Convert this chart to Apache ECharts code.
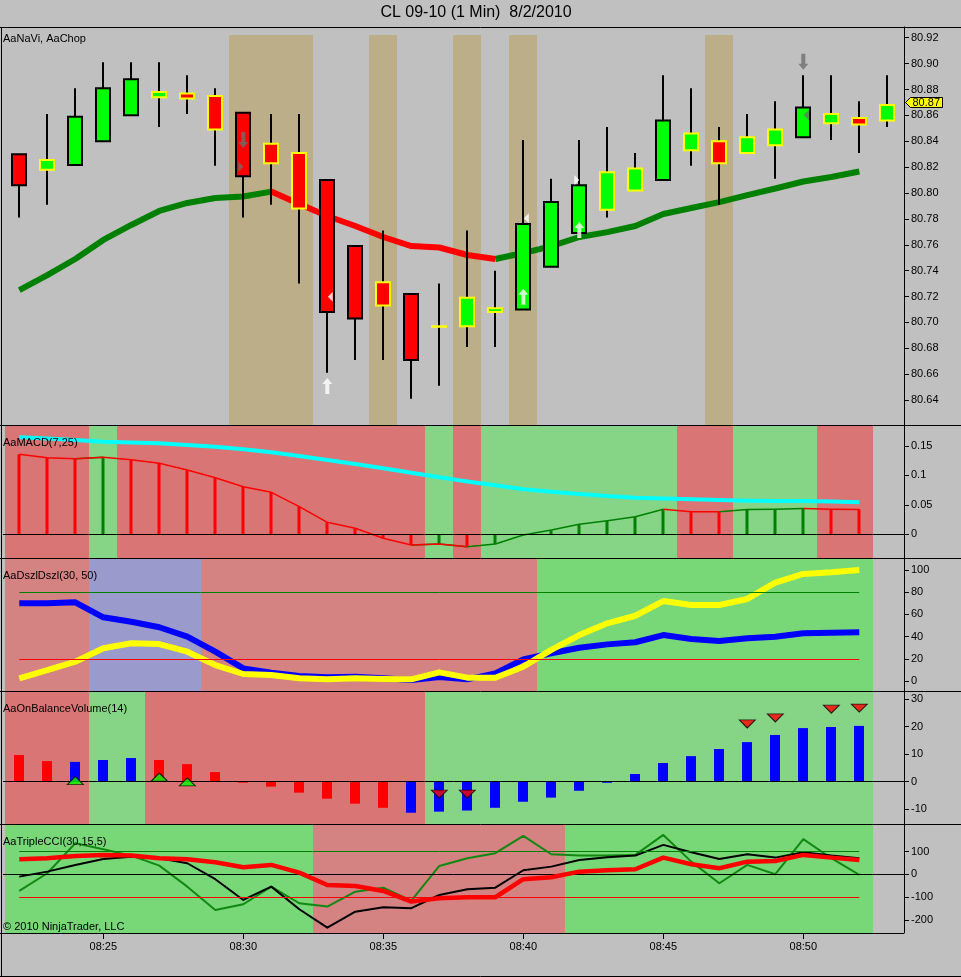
<!DOCTYPE html>
<html>
<head>
  <meta charset="utf-8">
  <title>CL 09-10 (1 Min) 8/2/2010</title>
  <script src="https://cdn.jsdelivr.net/npm/echarts@6/dist/echarts.min.js"></script>
  <style>
    html, body { margin: 0; padding: 0; background: #c0c0c0; }
    #main { width: 961px; height: 977px; }
  </style>
</head>
<body>
<div id="main"></div>
<script type="text/javascript">
  // ---- data ----
  var times = ['08:22', '08:23', '08:24', '08:25', '08:26', '08:27', '08:28', '08:29',
    '08:30', '08:31', '08:32', '08:33', '08:34', '08:35', '08:36', '08:37',
    '08:38', '08:39', '08:40', '08:41', '08:42', '08:43', '08:44', '08:45',
    '08:46', '08:47', '08:48', '08:49', '08:50', '08:51', '08:52', '08:53'];

  var opens = [80.830, 80.818, 80.8216, 80.840, 80.860, 80.874, 80.877, 80.875,
    80.862, 80.838, 80.831, 80.810, 80.759, 80.731, 80.722, 80.697,
    80.697, 80.708, 80.710, 80.743, 80.769, 80.787, 80.802, 80.810,
    80.833, 80.840, 80.831, 80.837, 80.843, 80.854, 80.858, 80.856];
  var highs = [80.830, 80.861, 80.881, 80.901, 80.901, 80.901, 80.891, 80.881,
    80.862, 80.861, 80.861, 80.810, 80.759, 80.771, 80.722, 80.730,
    80.771, 80.740, 80.841, 80.811, 80.841, 80.851, 80.831, 80.891,
    80.881, 80.851, 80.861, 80.871, 80.891, 80.891, 80.871, 80.891];
  var lows = [80.781, 80.791, 80.821, 80.840, 80.860, 80.851, 80.861, 80.821,
    80.781, 80.791, 80.730, 80.661, 80.671, 80.671, 80.641, 80.651,
    80.681, 80.681, 80.710, 80.743, 80.767, 80.781, 80.802, 80.810,
    80.821, 80.791, 80.831, 80.811, 80.843, 80.841, 80.831, 80.851];
  var closes = [80.806, 80.8255, 80.859, 80.881, 80.888, 80.878, 80.873, 80.849,
    80.813, 80.823, 80.788, 80.708, 80.703, 80.713, 80.671, 80.697,
    80.719, 80.711, 80.776, 80.793, 80.806, 80.816, 80.819, 80.856,
    80.846, 80.823, 80.843, 80.849, 80.866, 80.861, 80.853, 80.868];
  // candle outline: k = black, y = yellow
  var outline = ['k', 'y', 'k', 'k', 'k', 'y', 'y', 'y', 'k', 'y', 'y', 'k', 'k', 'y', 'k', 'y',
    'y', 'y', 'k', 'k', 'k', 'y', 'y', 'k', 'y', 'y', 'y', 'y', 'k', 'y', 'y', 'y'];
  var chopBars = [8, 9, 10, 13, 16, 18, 25];

  var naviMA = [80.725, 80.7366, 80.749, 80.7637, 80.7753, 80.7861, 80.7923, 80.7961,
    80.7973, 80.8011, 80.7915, 80.7822, 80.7745, 80.766, 80.759, 80.7579,
    80.7521, 80.749, 80.7536, 80.759, 80.766, 80.7698, 80.7745, 80.7838,
    80.7884, 80.793, 80.7984, 80.8035, 80.8089, 80.8124, 80.8166];

  // signals on the price panel: [bar, price, side] side 1 = long (white), -1 = short (grey)
  var arrowSignals = [[8, 80.841, -1], [11, 80.6508, 1], [18, 80.7198, 1], [20, 80.7714, 1], [28, 80.9015, -1]];
  var leftMarks = [[11, 80.7198, 1], [18, 80.7804, 1], [28, 80.8603, -1]];
  var rightMarks = [[8, 80.8203, -1], [20, 80.81, 1]];

  var macdLine = [0.1356, 0.1298, 0.1281, 0.1305, 0.1264, 0.1203, 0.109, 0.0959,
    0.0807, 0.0712, 0.0468, 0.0203, 0.0102, -0.0068, -0.0181, -0.0164,
    -0.021, -0.0164, -0.0012, 0.0073, 0.017, 0.023, 0.0298, 0.0424,
    0.0383, 0.0381, 0.042, 0.0424, 0.0438, 0.0425, 0.0422];
  var macdSignal = [0.1644, 0.1624, 0.1598, 0.157, 0.1556, 0.1542, 0.1514, 0.1485,
    0.1441, 0.139, 0.1327, 0.1259, 0.1192, 0.1119, 0.1042, 0.0966,
    0.0895, 0.0831, 0.0763, 0.072, 0.0683, 0.0649, 0.062, 0.0605,
    0.0593, 0.0581, 0.057, 0.0566, 0.0564, 0.0554, 0.0542];

  var dszlZone = ['r', 'r', 'r', 'b', 'b', 'b', 'b', 'r', 'r', 'r', 'r', 'r', 'r', 'r', 'r', 'r',
    'r', 'r', 'r', 'g', 'g', 'g', 'g', 'g', 'g', 'g', 'g', 'g', 'g', 'g', 'g'];
  var dszlBlue = [70.0, 70.0, 70.9, 57.4, 53.4, 48.4, 39.9, 26.4, 11.4, 7.5, 4.5, 3.3, 3.9, 2.4, 0.9, 3.5,
    1.5, 6.9, 19.5, 25, 30, 33, 34.9, 41.4, 37.8, 36, 38.5, 39.9, 43, 43.5, 43.9];
  var dszlYellow = [2.4, 9.9, 17.4, 29.5, 34, 33.3, 26.4, 14.4, 6.3, 5.4, 2.4, 1.5, 2.4, 1.8, 1.5, 7.8,
    3.0, 3.0, 12.9, 28, 41.4, 52, 58.8, 72, 68.5, 68.5, 73.9, 88.6, 96.4, 97.9, 100];

  var obvValues = [9.7, 7.5, 7.2, 7.9, 8.6, 7.9, 6.4, 3.5, -0.3, -1.8, -4.0, -6.2, -8.0, -9.5, -11.3, -10.9,
    -10.5, -9.5, -7.3, -5.8, -3.3, -0.4, 2.8, 6.8, 9.3, 11.9, 14.4, 17.0, 19.5, 19.9, 20.3];
  var obvColor = ['r', 'r', 'b', 'b', 'b', 'r', 'r', 'r', 'r', 'r', 'r', 'r', 'r', 'r', 'b', 'b',
    'b', 'b', 'b', 'b', 'b', 'b', 'b', 'b', 'b', 'b', 'b', 'b', 'b', 'b', 'b'];
  var obvZone = ['r', 'r', 'r', 'g', 'g', 'r', 'r', 'r', 'r', 'r', 'r', 'r', 'r', 'r', 'r', 'g',
    'g', 'g', 'g', 'g', 'g', 'g', 'g', 'g', 'g', 'g', 'g', 'g', 'g', 'g', 'g'];
  var obvUpMarks = [[2, 0.4], [5, 1.7], [6, -0.1]];
  var obvDownMarks = [[15, -4.5], [16, -4.5], [26, 21.0], [27, 23.2], [29, 26.4], [30, 26.8]];

  var cciZone = ['g', 'g', 'g', 'g', 'g', 'g', 'g', 'g', 'g', 'g', 'g', 'r', 'r', 'r', 'r', 'r',
    'r', 'r', 'r', 'r', 'g', 'g', 'g', 'g', 'g', 'g', 'g', 'g', 'g', 'g', 'g'];
  var cciRed = [66.6, 71, 81, 85.5, 82.5, 71, 66.6, 53.5, 31.6, 41.7, 7.9, -46, -50.4, -72.4, -119, -104.4,
    -100, -100, -21, -12.3, 12.3, 18.4, 22.8, 73.7, 44.7, 27.2, 56.1, 59.2, 85.5, 73.7, 63.6];
  var cciBlack = [-9.6, 12.3, 41.7, 68, 78, 71, 49, -21, -111.8, -53.5, -152.6, -233, -163, -144, -148, -90,
    -65, -58, 18.4, 34.2, 63.6, 75.4, 82.5, 129.4, 97.4, 68, 88.6, 73.7, 97.4, 82.5, 71];
  var cciGreen = [-72.4, 5.3, 136.8, 110.5, 82.5, 38.6, -53.5, -155.7, -130.7, -53.5, -126.3, -141, -75.4, -58, -115, 37.3,
    71, 93, 168.9, 88.6, 82.5, 82.5, 85.5, 173.2, 56.1, -38.6, 41.7, 0.9, 154.4, 71, -2.2];

  var priceTicks = [80.64, 80.66, 80.68, 80.70, 80.72, 80.74, 80.76, 80.78, 80.80, 80.82, 80.84, 80.86, 80.88, 80.90, 80.92];
  var macdTicks = [0, 0.05, 0.1, 0.15];
  var dszlTicks = [0, 20, 40, 60, 80, 100];
  var obvTicks = [-10, 0, 10, 20, 30];
  var cciTicks = [-200, -100, 0, 100];

  // ---- chart ----
  var myChart = echarts.init(document.getElementById('main'));
  var FONT = '"Liberation Sans", Arial, sans-serif';
  var XMIN = -0.582, XMAX = 31.596;
  var panels = [
    { top: 27, height: 398, min: 80.6207, max: 80.9283, ticks: priceTicks, fmt: function (v) { return v.toFixed(2); } },
    { top: 425, height: 133, min: -0.0402, max: 0.1853, ticks: macdTicks, fmt: function (v) { return String(v); } },
    { top: 558, height: 133, min: -9.0, max: 110.8, ticks: dszlTicks, fmt: function (v) { return String(v); } },
    { top: 691, height: 133, min: -15.4, max: 33.0, ticks: obvTicks, fmt: function (v) { return String(v); } },
    { top: 824, height: 109, min: -256.6, max: 221, ticks: cciTicks, fmt: function (v) { return String(v); } }
  ];

  var labelBars = [];
  times.forEach(function (t, i) { if (+t.slice(3) % 5 === 0) labelBars.push(i); });

  var grids = [], xAxes = [], yAxes = [];
  panels.forEach(function (p, gi) {
    grids.push({ left: 3, right: 57, top: p.top, height: p.height });
    var last = gi === panels.length - 1;
    xAxes.push({
      type: 'value', gridIndex: gi, min: XMIN, max: XMAX,
      axisLine: { show: false, onZero: false },
      axisTick: { show: last, length: 6, customValues: labelBars, lineStyle: { color: '#000' } },
      axisLabel: {
        show: last, customValues: labelBars, margin: 8, color: '#000', fontSize: 11, fontFamily: FONT,
        formatter: function (v) { return times[v]; }
      },
      splitLine: { show: false }
    });
    yAxes.push({
      type: 'value', gridIndex: gi, position: 'right', min: p.min, max: p.max,
      axisLine: { show: true, onZero: false, lineStyle: { color: '#000', width: 1 } },
      axisTick: { show: true, length: 5, customValues: p.ticks, lineStyle: { color: '#000' } },
      axisLabel: { customValues: p.ticks, margin: 7, color: '#000', fontSize: 11, fontFamily: FONT, formatter: p.fmt },
      splitLine: { show: false }
    });
  });

  function barSpan(api, i) {
    var x0 = Math.round(api.coord([i - 0.5, 0])[0]);
    var x1 = Math.round(api.coord([i + 0.5, 0])[0]);
    return [x0, x1];
  }

  function zoneSeries(gi, zones, palette) {
    return {
      type: 'custom', xAxisIndex: gi, yAxisIndex: gi, z: 1, silent: true,
      data: zones.map(function (z, i) { return [i, 0]; }),
      renderItem: function (params, api) {
        var s = barSpan(api, api.value(0));
        var cs = params.coordSys;
        return {
          type: 'rect', shape: { x: s[0], y: cs.y, width: s[1] - s[0], height: cs.height },
          style: { fill: palette[zones[params.dataIndex]] }
        };
      }
    };
  }

  function splitBySlope(vals) {
    var up = [], dn = [];
    for (var i = 0; i < vals.length; i++) {
      var inUp = i > 0 && vals[i] > vals[i - 1];
      var inDn = i > 0 && vals[i] <= vals[i - 1];
      var outUp = i < vals.length - 1 && vals[i + 1] > vals[i];
      var outDn = i < vals.length - 1 && vals[i + 1] <= vals[i];
      up.push([i, (inUp || outUp) ? vals[i] : '-']);
      dn.push([i, (inDn || outDn) ? vals[i] : '-']);
    }
    return { up: up, dn: dn };
  }

  function lineSeries(gi, data, color, width, z) {
    return {
      type: 'line', xAxisIndex: gi, yAxisIndex: gi, data: data, symbol: 'none', showSymbol: false,
      connectNulls: false, silent: true, z: z || 3,
      lineStyle: { color: color, width: width, cap: 'butt', join: 'round' }
    };
  }

  function indexed(vals) { return vals.map(function (v, i) { return [i, v]; }); }

  function hLines(gi, lines) {
    return {
      type: 'line', xAxisIndex: gi, yAxisIndex: gi, data: [], z: 2, silent: true,
      markLine: {
        silent: true, symbol: ['none', 'none'], label: { show: false }, animation: false,
        data: lines.map(function (l) {
          if (l.full) {
            return { yAxis: l.y, lineStyle: { color: l.color, width: 1, type: 'solid' } };
          }
          return [
            { coord: [l.from, l.y], lineStyle: { color: l.color, width: 1, type: 'solid' } },
            { coord: [l.to, l.y] }
          ];
        })
      }
    };
  }

  var UP_ARROW = 'path://M5,0 L10,6 L7,6 L7,16 L3,16 L3,6 L0,6 Z';
  var DOWN_ARROW = 'path://M3,0 L7,0 L7,10 L10,10 L5,16 L0,10 L3,10 Z';
  var TRI_LEFT = 'path://M0,5 L5,0 L5,10 Z';
  var TRI_RIGHT = 'path://M0,0 L5,5 L0,10 Z';
  var sideColor = function (s) { return s > 0 ? '#FFFFFF' : '#6E6E6E'; };

  var lastBar = times.length - 1;
  var ma = splitBySlope(naviMA);
  var macdSplit = splitBySlope(macdLine);
  var macdZone = macdLine.map(function (v, i) { return i > 0 && v > macdLine[i - 1] ? 'g' : 'r'; });
  var lastIdx = macdLine.length - 1;

  var series = [
    // price panel: chop bands
    {
      type: 'custom', xAxisIndex: 0, yAxisIndex: 0, z: 1, silent: true,
      data: chopBars.map(function (b) { return [b, 80.7]; }),
      renderItem: function (params, api) {
        var s = barSpan(api, api.value(0));
        var cs = params.coordSys;
        return {
          type: 'rect', shape: { x: s[0], y: cs.y + 8, width: s[1] - s[0], height: cs.height - 8 },
          style: { fill: '#BCAE89' }
        };
      }
    },
    lineSeries(0, ma.up, '#008000', 6, 3),
    lineSeries(0, ma.dn, '#FF0000', 6, 3),
    // candles
    {
      type: 'custom', xAxisIndex: 0, yAxisIndex: 0, z: 4, silent: true,
      data: times.map(function (t, i) { return [i, opens[i], closes[i], lows[i], highs[i]]; }),
      renderItem: function (params, api) {
        var i = api.value(0), o = api.value(1), c = api.value(2);
        var pO = api.coord([i, o]), pC = api.coord([i, c]);
        var pL = api.coord([i, api.value(3)]), pH = api.coord([i, api.value(4)]);
        var x = Math.round(pO[0]);
        var top = Math.min(pO[1], pC[1]), bot = Math.max(pO[1], pC[1]);
        var w = 14;
        return {
          type: 'group', children: [
            { type: 'line', shape: { x1: x, y1: pH[1], x2: x, y2: pL[1] }, style: { stroke: '#000', lineWidth: 2 } },
            {
              type: 'rect', shape: { x: x - w / 2, y: top, width: w, height: Math.max(bot - top, 0.5) },
              style: {
                fill: c >= o ? '#00FF00' : '#FF0000',
                stroke: outline[params.dataIndex] === 'k' ? '#000000' : '#FFFF00', lineWidth: 2
              }
            }
          ]
        };
      }
    },
    // signal arrows
    {
      type: 'scatter', xAxisIndex: 0, yAxisIndex: 0, z: 5, silent: true, symbolSize: [10, 16],
      data: arrowSignals.map(function (s) {
        return { value: [s[0], s[1]], symbol: s[2] > 0 ? UP_ARROW : DOWN_ARROW, itemStyle: { color: sideColor(s[2]) } };
      })
    },
    {
      type: 'scatter', xAxisIndex: 0, yAxisIndex: 0, z: 5, silent: true, symbol: TRI_LEFT, symbolSize: [5, 10],
      symbolOffset: [3, 0],
      data: leftMarks.map(function (s) { return { value: [s[0], s[1]], itemStyle: { color: sideColor(s[2]) } }; })
    },
    {
      type: 'scatter', xAxisIndex: 0, yAxisIndex: 0, z: 5, silent: true, symbol: TRI_RIGHT, symbolSize: [5, 10],
      symbolOffset: [-2.5, 0],
      data: rightMarks.map(function (s) { return { value: [s[0], s[1]], itemStyle: { color: sideColor(s[2]) } }; })
    },
    // last price tag
    {
      type: 'custom', xAxisIndex: 0, yAxisIndex: 0, z: 10, silent: true, clip: false,
      data: [[lastBar, +closes[lastBar].toFixed(2)]],
      renderItem: function (params, api) {
        var p = api.coord([api.value(0), api.value(1)]);
        var cs = params.coordSys;
        var x = cs.x + cs.width + 1.5, y = Math.round(p[1]) + 0.5;
        return {
          type: 'group', children: [
            {
              type: 'polygon',
              shape: { points: [[x, y], [x + 5, y - 5], [x + 37, y - 5], [x + 37, y + 5], [x + 5, y + 5]] },
              style: { fill: '#FFFF00', stroke: '#000', lineWidth: 1 }
            },
            {
              type: 'text',
              style: { text: api.value(1).toFixed(2), x: x + 7, y: y + 0.5, fill: '#000', font: '11px ' + FONT, verticalAlign: 'middle' }
            }
          ]
        };
      }
    },

    // MACD panel
    zoneSeries(1, macdZone, { r: '#D97575', g: '#86D486' }),
    hLines(1, [{ y: 0, color: '#000', full: true }]),
    {
      type: 'custom', xAxisIndex: 1, yAxisIndex: 1, z: 3, silent: true,
      data: indexed(macdLine),
      renderItem: function (params, api) {
        var i = api.value(0), v = api.value(1);
        var p0 = api.coord([i, 0]), p1 = api.coord([i, v]);
        var x = Math.round(p0[0]);
        return {
          type: 'rect', shape: { x: x - 1.5, y: Math.min(p0[1], p1[1]), width: 3, height: Math.abs(p1[1] - p0[1]) },
          style: { fill: macdZone[params.dataIndex] === 'g' ? '#008000' : '#FF0000' }
        };
      }
    },
    lineSeries(1, macdSplit.up, '#008000', 1.5, 4),
    lineSeries(1, macdSplit.dn, '#FF0000', 1.5, 4),
    lineSeries(1, indexed(macdSignal), '#00FFFF', 4, 5),

    // Dszl panel
    zoneSeries(2, dszlZone, { r: '#D48282', b: '#9A9ACC', g: '#78D878' }),
    hLines(2, [{ y: 80, color: '#008000', from: 0, to: lastIdx }, { y: 20, color: '#FF0000', from: 0, to: lastIdx }]),
    lineSeries(2, indexed(dszlBlue), '#0000FF', 6, 3),
    lineSeries(2, indexed(dszlYellow), '#FFFF00', 6, 4),

    // OBV panel
    zoneSeries(3, obvZone, { r: '#D97575', g: '#86D486' }),
    hLines(3, [{ y: 0, color: '#000', full: true }]),
    {
      type: 'custom', xAxisIndex: 3, yAxisIndex: 3, z: 3, silent: true,
      data: indexed(obvValues),
      renderItem: function (params, api) {
        var i = api.value(0), v = api.value(1);
        var p0 = api.coord([i, 0]), p1 = api.coord([i, v]);
        var x = Math.round(p0[0]);
        return {
          type: 'rect', shape: { x: x - 5, y: Math.min(p0[1], p1[1]), width: 10, height: Math.max(Math.abs(p1[1] - p0[1]), 1) },
          style: { fill: obvColor[params.dataIndex] === 'b' ? '#0000FF' : '#FF0000' }
        };
      }
    },
    {
      type: 'scatter', xAxisIndex: 3, yAxisIndex: 3, z: 5, silent: true, symbol: 'triangle', symbolSize: [16, 8],
      itemStyle: { color: '#00FF00', borderColor: '#000', borderWidth: 1 },
      data: obvUpMarks
    },
    {
      type: 'scatter', xAxisIndex: 3, yAxisIndex: 3, z: 5, silent: true, symbol: 'triangle', symbolSize: [16, 8],
      symbolRotate: 180,
      itemStyle: { color: '#FF0000', borderColor: '#000', borderWidth: 1 },
      data: obvDownMarks
    },

    // Triple CCI panel
    zoneSeries(4, cciZone, { r: '#D48282', g: '#78D878' }),
    hLines(4, [
      { y: 100, color: '#008000', from: 0, to: lastIdx },
      { y: 0, color: '#000', full: true },
      { y: -100, color: '#FF0000', from: 0, to: lastIdx }
    ]),
    lineSeries(4, indexed(cciGreen), '#118811', 2, 3),
    lineSeries(4, indexed(cciBlack), '#000000', 2, 4),
    lineSeries(4, indexed(cciRed), '#FF0000', 4.5, 5)
  ];

  // frame lines and texts
  var graphics = [];
  function hRule(y, x1, x2) {
    graphics.push({ type: 'line', z: 50, silent: true, shape: { x1: x1, y1: y + 0.5, x2: x2, y2: y + 0.5 }, style: { stroke: '#000', lineWidth: 1 } });
  }
  panels.forEach(function (p) { hRule(p.top, 0, 961); });
  hRule(933, 0, 904);
  hRule(976, 0, 961);
  graphics.push({ type: 'line', z: 50, silent: true, shape: { x1: 1.5, y1: 27, x2: 1.5, y2: 977 }, style: { stroke: '#000', lineWidth: 1 } });

  function label(text, x, y, size, align) {
    graphics.push({
      type: 'text', z: 60, silent: true,
      style: { text: text, x: x, y: y, fill: '#000', font: size + 'px ' + FONT, align: align || 'left', verticalAlign: 'middle' }
    });
  }
  label('CL 09-10 (1 Min)  8/2/2010', 476, 13, 16, 'center');
  label('AaNaVi, AaChop', 3, 39, 11);
  label('AaMACD(7,25)', 3, 443, 11);
  label('AaDszlDszl(30, 50)', 3, 576, 11);
  label('AaOnBalanceVolume(14)', 3, 709, 11);
  label('AaTripleCCI(30,15,5)', 3, 842, 11);
  label('\u00a9 2010 NinjaTrader, LLC', 3, 927, 11);

  var option = {
    backgroundColor: '#C0C0C0',
    animation: false,
    grid: grids,
    xAxis: xAxes,
    yAxis: yAxes,
    series: series,
    graphic: { elements: graphics }
  };

  myChart.setOption(option);
</script>
</body>
</html>
